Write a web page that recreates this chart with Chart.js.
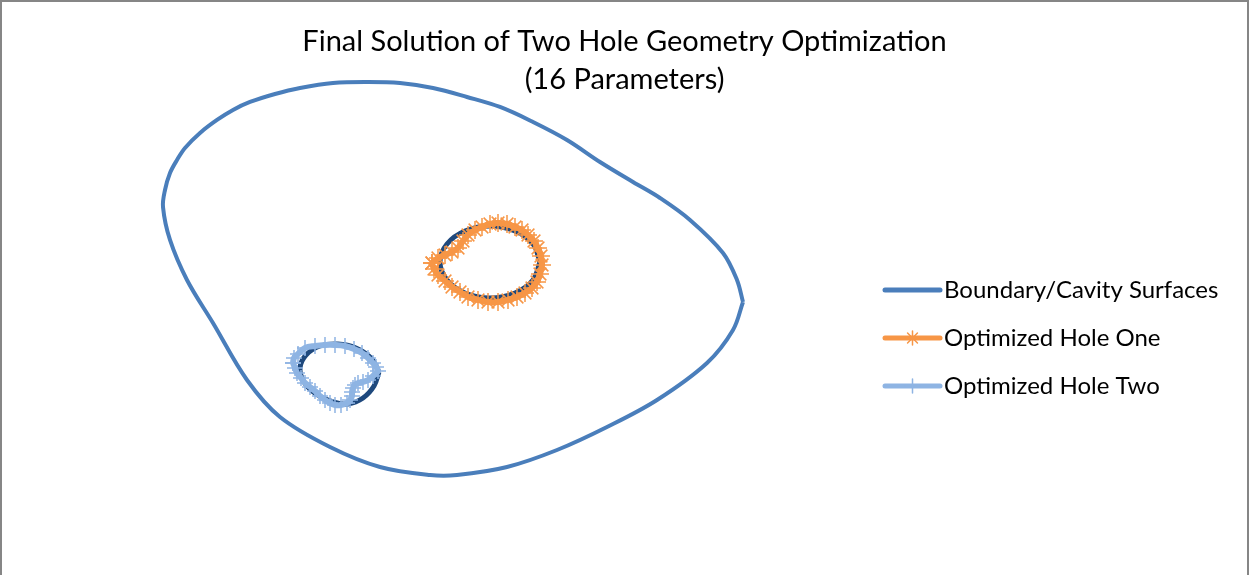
<!DOCTYPE html>
<html>
<head>
<meta charset="utf-8">
<script src="https://cdn.jsdelivr.net/npm/chart.js@4/dist/chart.umd.min.js"></script>
<style>
	html, body { margin: 0; padding: 0; background: #fff; }
	#wrap {
		width: 1249px; height: 575px; box-sizing: border-box;
		border: 2px solid #868686; border-bottom: none; background: #fff;
	}
</style>
</head>
<body>
<div id="wrap"><canvas id="holes_chart" width="1245" height="573"></canvas></div>
<script>
const titleLines = ["Final Solution of Two Hole Geometry Optimization", "(16 Parameters)"];
const seriesNames = ["Boundary/Cavity Surfaces", "Optimized Hole One", "Optimized Hole Two"];

// outer boundary, starting at the sharp right tip
const boundaryX = [5.86, 5.66, 5.14, 4.14, 3.14, 2.14, 1.14, 0.14, -0.40, -1.40, -2.40, -3.40, -4.06, -4.74, -5.26, -5.60, -5.74, -5.70, -5.60, -5.46, -5.30, -5.00, -4.66, -4.34, -4.00, -3.50, -3.00, -2.34, -1.66, -1.00, -0.34, 0.34, 1.00, 1.66, 2.34, 3.00, 3.66, 4.20, 4.80, 5.46, 5.74, 5.86];
const boundaryY = [-0.54, -1.10, -1.76, -2.50, -3.04, -3.50, -3.84, -4.00, -4.00, -3.84, -3.44, -2.84, -2.10, -0.96, -0.10, 0.70, 1.36, 1.70, 2.04, 2.30, 2.54, 2.84, 3.10, 3.30, 3.46, 3.62, 3.74, 3.84, 3.86, 3.84, 3.74, 3.56, 3.36, 3.06, 2.70, 2.26, 1.86, 1.54, 1.10, 0.44, -0.10, -0.54];

// initial cavities
const cavityOneX = [1.80, 1.66, 1.30, 0.80, 0.30, -0.06, -0.20, -0.06, 0.30, 0.80, 1.30, 1.66, 1.80];
const cavityOneY = [0.26, -0.10, -0.36, -0.46, -0.36, -0.10, 0.26, 0.62, 0.88, 0.98, 0.88, 0.62, 0.26];
const cavityTwoX = [-1.42, -1.52, -1.74, -2.04, -2.34, -2.68, -2.92, -3.00, -2.88, -2.60, -2.24, -1.88, -1.58, -1.42];
const cavityTwoY = [-1.94, -2.22, -2.46, -2.58, -2.54, -2.38, -2.14, -1.86, -1.60, -1.42, -1.38, -1.46, -1.66, -1.94];

// optimized holes
const holeOneX = [-0.36, -0.24, -0.10, 0.04, 0.16, 0.26, 0.36, 0.50, 0.64, 0.80, 0.96, 1.14, 1.30, 1.44, 1.56, 1.68, 1.76, 1.82, 1.84, 1.80, 1.74, 1.64, 1.50, 1.34, 1.16, 0.96, 0.76, 0.56, 0.36, 0.20, 0.04, -0.10, -0.24, -0.32, -0.36];
const holeOneY = [0.24, 0.34, 0.40, 0.46, 0.54, 0.68, 0.80, 0.90, 0.96, 1.02, 1.04, 1.02, 0.96, 0.90, 0.80, 0.68, 0.54, 0.38, 0.20, 0.02, -0.14, -0.26, -0.36, -0.44, -0.50, -0.54, -0.54, -0.50, -0.44, -0.34, -0.24, -0.12, 0.00, 0.12, 0.24];
const holeTwoX = [-3.14, -3.10, -3.06, -2.98, -2.90, -2.80, -2.70, -2.60, -2.50, -2.40, -2.30, -2.18, -2.06, -2.00, -1.96, -1.96, -1.94, -1.90, -1.84, -1.74, -1.64, -1.54, -1.44, -1.48, -1.54, -1.64, -1.76, -1.92, -2.10, -2.30, -2.50, -2.70, -2.90, -3.04, -3.12, -3.14];
const holeTwoY = [-1.76, -1.86, -1.96, -2.06, -2.16, -2.24, -2.32, -2.42, -2.50, -2.56, -2.60, -2.60, -2.56, -2.50, -2.42, -2.34, -2.26, -2.20, -2.16, -2.14, -2.10, -2.02, -1.92, -1.84, -1.76, -1.66, -1.56, -1.48, -1.42, -1.40, -1.40, -1.42, -1.46, -1.58, -1.66, -1.76];

const colBoundary = "#4a7ebb";
const colCavity = "#1f497d";
const colHoleOne = "#f79646";
const colHoleTwo = "#8eb4e3";

const toPoints = (xs, ys) => xs.map((x, i) => ({ x: x, y: ys[i] }));

function curve(label, xs, ys, color, width, order, marker) {
	return {
		label: label,
		data: toPoints(xs, ys),
		showLine: true,
		borderColor: color,
		backgroundColor: color,
		borderWidth: width,
		tension: 0.35,
		capBezierPoints: false,
		clip: false,
		order: order,
		pointStyle: marker ? marker.style : false,
		pointRadius: marker ? marker.radius : 0,
		pointBorderWidth: marker ? 1.5 : 0,
		pointBorderColor: color,
		pointHoverRadius: 0
	};
}

// legend with line + marker samples, like the spreadsheet one
const sideLegend = {
	id: "sideLegend",
	afterDraw(chart) {
		const c = chart.ctx;
		const items = [
			{ text: seriesNames[0], color: colBoundary, marker: null },
			{ text: seriesNames[1], color: colHoleOne, marker: { pointStyle: "star", radius: 7, borderWidth: 1.5 } },
			{ text: seriesNames[2], color: colHoleTwo, marker: { pointStyle: "cross", radius: 7, borderWidth: 1.5 } }
		];
		const x0 = 883, x1 = 938, tx = 942;
		c.save();
		items.forEach((it, i) => {
			const y = 288 + i * 48;
			c.strokeStyle = it.color;
			c.lineWidth = 5;
			c.lineCap = "round";
			c.beginPath();
			c.moveTo(x0, y);
			c.lineTo(x1, y);
			c.stroke();
			if (it.marker && Chart.helpers && Chart.helpers.drawPoint) {
				c.strokeStyle = it.color;
				c.fillStyle = it.color;
				c.lineWidth = it.marker.borderWidth;
				Chart.helpers.drawPoint(c, it.marker, (x0 + x1) / 2, y);
			}
			c.fillStyle = "#000";
			c.font = "24px Lato";
			c.textBaseline = "middle";
			c.textAlign = "left";
			c.fillText(it.text, tx, y);
		});
		c.restore();
	}
};

new Chart(document.getElementById("holes_chart"), {
	type: "scatter",
	data: {
		datasets: [
			curve(seriesNames[0], boundaryX, boundaryY, colBoundary, 4, 4, null),
			curve("cavity one", cavityOneX, cavityOneY, colCavity, 5, 3, null),
			curve("cavity two", cavityTwoX, cavityTwoY, colCavity, 5, 3, null),
			curve(seriesNames[1], holeOneX, holeOneY, colHoleOne, 6, 2, { style: "star", radius: 9 }),
			curve(seriesNames[2], holeTwoX, holeTwoY, colHoleTwo, 6, 1, { style: "cross", radius: 8 })
		]
	},
	options: {
		responsive: false,
		maintainAspectRatio: false,
		animation: false,
		events: [],
		layout: { padding: 0 },
		scales: {
			// hidden scales; area shrinks by the largest marker (9 + 1.5), title sets the top
			x: { type: "linear", display: false, min: -8.75, max: 15.73 },
			y: { type: "linear", display: false, min: -5.79, max: 3.52 }
		},
		plugins: {
			legend: { display: false },
			tooltip: { enabled: false },
			title: {
				display: true,
				text: titleLines,
				color: "#000",
				font: { family: "Lato", size: 29, weight: "normal", lineHeight: 1.31 },
				padding: { top: 21, bottom: 0 }
			}
		}
	},
	plugins: [sideLegend]
});
</script>
</body>
</html>
